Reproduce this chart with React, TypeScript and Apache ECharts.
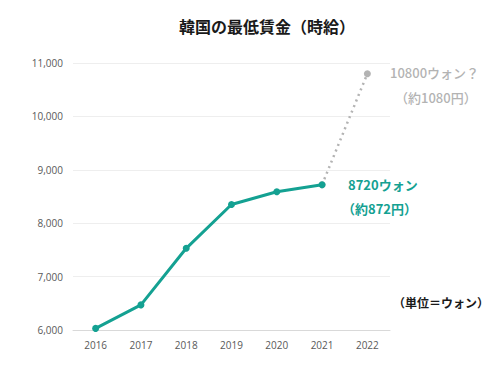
import React, { useEffect, useRef } from "react";
import * as echarts from "echarts";

const years = ["2016", "2017", "2018", "2019", "2020", "2021", "2022"];
const actualWage = [6030, 6470, 7530, 8350, 8590, 8720, null];
const projectedWage = [null, null, null, null, null, 8720, 10800];
const titleText = "韓国の最低賃金（時給）";
const unitText = "（単位＝ウォン）";

const TEAL = "#14a192";
const GRAY = "#b3b3b3";
const JP = "'Noto Sans CJK JP', 'Noto Sans', sans-serif";

export default function App() {
  const ref = useRef<HTMLDivElement>(null);
  useEffect(() => {
    document.body.style.margin = "0";
    if (!ref.current) return;
    const chart = echarts.init(ref.current, undefined, { renderer: "svg" });
    chart.setOption({
      animation: false,
      backgroundColor: "#ffffff",
      title: {
        text: titleText,
        left: 262,
        top: 13,
        textAlign: "center",
        textStyle: { fontFamily: JP, fontSize: 16, fontWeight: "bold", color: "#1a1a1a" },
      },
      grid: { left: 73, right: 110, top: 63, bottom: 49, containLabel: false },
      xAxis: {
        type: "category",
        data: years,
        boundaryGap: true,
        axisLine: { show: true, lineStyle: { color: "#d9d9d9", width: 1 } },
        axisTick: { show: false },
        axisLabel: { color: "#595959", fontSize: 10, fontFamily: "'Open Sans', sans-serif", margin: 10 },
      },
      yAxis: {
        type: "value",
        min: 6000,
        max: 11000,
        interval: 1000,
        axisLine: { show: false },
        axisTick: { show: false },
        splitLine: { lineStyle: { color: "#eeeeee", width: 1 } },
        axisLabel: {
          color: "#595959",
          fontSize: 10,
          fontFamily: "'Open Sans', sans-serif",
          margin: 10,
          formatter: (v: number) => v.toLocaleString("en-US"),
        },
      },
      series: [
        {
          type: "line",
          data: projectedWage,
          connectNulls: false,
          symbol: "circle",
          symbolSize: 7,
          showSymbol: true,
          lineStyle: { color: GRAY, width: 2.5, type: [2, 4] },
          itemStyle: { color: GRAY },
          z: 1,
        },
        {
          type: "line",
          data: actualWage,
          symbol: "circle",
          symbolSize: 7,
          lineStyle: { color: TEAL, width: 3 },
          itemStyle: { color: TEAL },
          z: 2,
        },
      ],
      graphic: [
        {
          type: "text",
          left: 348,
          top: 178,
          style: { text: "8720ウォン", fill: TEAL, font: `bold 13px ${JP}` },
        },
        {
          type: "text",
          left: 342,
          top: 202,
          style: { text: "（約872円）", fill: TEAL, font: `bold 13px ${JP}` },
        },
        {
          type: "text",
          left: 390,
          top: 66,
          style: { text: "10800ウォン？", fill: GRAY, font: `500 13px ${JP}` },
        },
        {
          type: "text",
          left: 395,
          top: 91,
          style: { text: "（約1080円）", fill: GRAY, font: `500 13px ${JP}` },
        },
        {
          type: "text",
          left: 393,
          top: 296,
          style: { text: unitText, fill: "#1a1a1a", font: `bold 12px ${JP}` },
        },
      ],
    });
    return () => chart.dispose();
  }, []);
  return <div ref={ref} style={{ width: 500, height: 379 }} />;
}
